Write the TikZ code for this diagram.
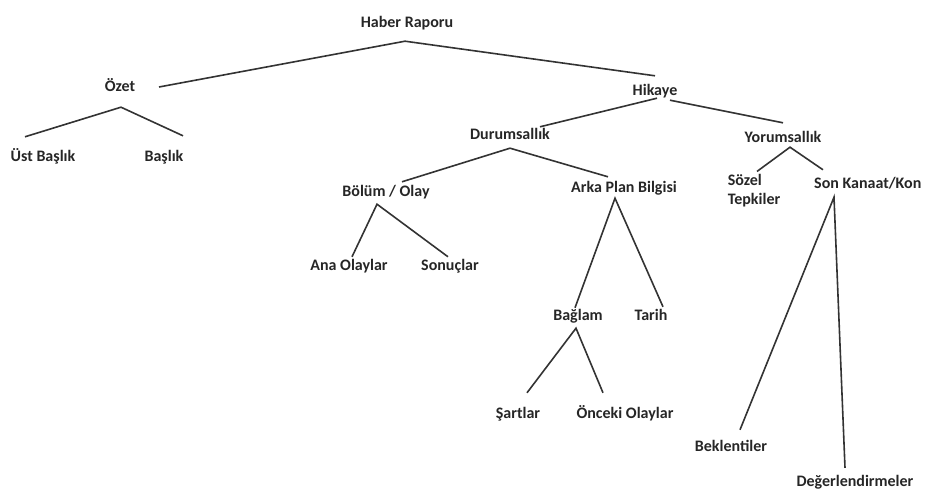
\documentclass[tikz,border=0pt]{standalone}
\usepackage{fontspec}
\setmainfont{Carlito}
\usepackage{tikz}

\tikzset{
	lblfont/.style={font=\bfseries\fontsize{16}{19}\selectfont, text=black!85, inner sep=1pt},
	lbl/.style={lblfont, text height=11pt, text depth=3pt},
	branch/.style={line width=1.6pt, black!80},
}

\begin{document}
\begin{tikzpicture}[x=1pt, y=-1pt]
	\useasboundingbox (0,0) rectangle (927,494);
	
	\node[lbl] (haber) at (407,24) {Haber Raporu};
	\node[lbl] (ozet) at (120,88) {Özet};
	\node[lbl] (ustbaslik) at (43,158) {Üst Başlık};
	\node[lbl] (baslik) at (164,158) {Başlık};
	\node[lbl] (hikaye) at (655,92) {Hikaye};
	
	\node[lbl] (durum) at (510,136) {Durumsallık};
	\node[lbl] (yorum) at (783,139) {Yorumsallık};
	\node[lbl] (bolum) at (386,193) {Bölüm / Olay};
	\node[lbl] (arka) at (624,189) {Arka Plan Bilgisi};
	\node[lblfont, align=left] (sozel) at (754,191) {Sözel\\Tepkiler};
	\node[lbl, anchor=west] (son) at (813,185) {Son Kanaat/Kon};
	
	\node[lbl] (anaolay) at (349,267) {Ana Olaylar};
	\node[lbl] (sonuc) at (450,267) {Sonuçlar};
	\node[lbl] (baglam) at (578,317) {Bağlam};
	\node[lbl] (tarih) at (651,317) {Tarih};
	\node[lbl] (sartlar) at (518,415) {Şartlar};
	\node[lbl] (onceki) at (625,415) {Önceki Olaylar};
	\node[lbl] (beklenti) at (731,447) {Beklentiler};
	\node[lbl] (deger) at (855,482) {Değerlendirmeler};
	
	\draw[branch] ([xshift=39pt,yshift=1pt]ozet.center) -- ([xshift=-2pt,yshift=-9pt]haber.south) -- ([yshift=8pt]hikaye.north);
	\draw[branch] ([xshift=-18pt,yshift=13pt]ustbaslik.north) -- ([xshift=1pt,yshift=-11pt]ozet.south) -- ([xshift=19pt,yshift=14pt]baslik.north);
	\draw[branch] ([xshift=2pt,yshift=2pt]hikaye.south) -- ([xshift=30pt,yshift=1pt]durum.north);
	\draw[branch] ([xshift=15pt]hikaye.south) -- ([yshift=8pt]yorum.north);
	
	\draw[branch] ([xshift=16pt,yshift=3pt]bolum.north) -- ([yshift=-4pt]durum.south) -- ([xshift=-16pt,yshift=4pt]arka.north);
	\draw[branch] ([xshift=3pt,yshift=2pt]sozel.north) -- ([xshift=7pt]yorum.south) -- ([xshift=10pt,yshift=7pt]son.north west);
	
	\draw[branch] ([xshift=3pt,yshift=2pt]anaolay.north) -- ([xshift=-9pt,yshift=-3pt]bolum.south) -- ([xshift=-2pt,yshift=2pt]sonuc.north);
	\draw[branch] ([xshift=-3pt,yshift=1pt]baglam.north) -- ([xshift=-9pt,yshift=-1pt]arka.south) -- ([xshift=12pt,yshift=2pt]tarih.north);
	\draw[branch] ([xshift=9pt,yshift=14pt]sartlar.north) -- ([xshift=-2pt,yshift=-3pt]baglam.south) -- ([xshift=-22pt,yshift=14pt]onceki.north);
	\draw[branch] ([xshift=9pt,yshift=9pt]beklenti.north) -- ([xshift=21pt,yshift=-4pt]son.south west) -- ([xshift=-10pt,yshift=6pt]deger.north);
\end{tikzpicture}
\end{document}
